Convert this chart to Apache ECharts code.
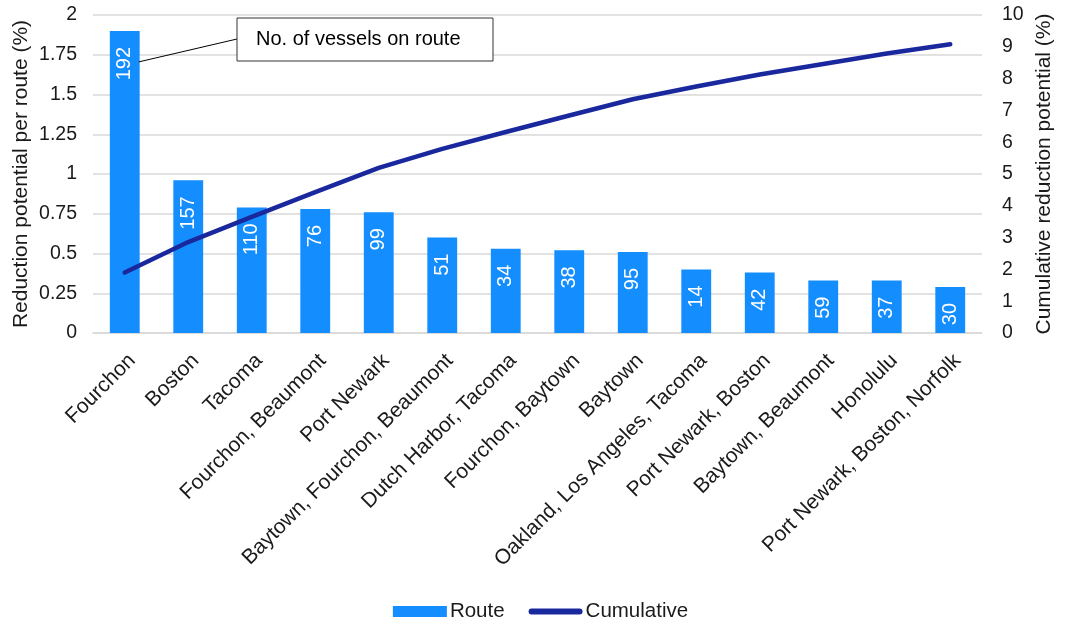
<!DOCTYPE html>
<html>
<head>
<meta charset="utf-8">
<script src="https://cdn.jsdelivr.net/npm/echarts@6/dist/echarts.min.js"></script>
<style>html,body{margin:0;padding:0;background:#fff;}#c{width:1081px;height:625px;}</style>
</head>
<body>
<div id="c"></div>
<script>
const categories = ["Fourchon","Boston","Tacoma","Fourchon, Beaumont","Port Newark","Baytown, Fourchon, Beaumont","Dutch Harbor, Tacoma","Fourchon, Baytown","Baytown","Oakland, Los Angeles, Tacoma","Port Newark, Boston","Baytown, Beaumont","Honolulu","Port Newark, Boston, Norfolk"];
const routeValues = [1.90, 0.96, 0.79, 0.78, 0.76, 0.60, 0.53, 0.52, 0.51, 0.40, 0.38, 0.33, 0.33, 0.29];
const vesselCounts = [192, 157, 110, 76, 99, 51, 34, 38, 95, 14, 42, 59, 37, 30];
const cumulativeValues = [1.90, 2.86, 3.65, 4.43, 5.19, 5.79, 6.32, 6.84, 7.35, 7.75, 8.13, 8.46, 8.79, 9.08];

const FONT = '"Liberation Sans", Arial, sans-serif';
const TXT = '#1a1a1a';
const chart = echarts.init(document.getElementById('c'), null, {renderer: 'canvas'});
const option = {
  animation: false,
  textStyle: {fontFamily: FONT},
  grid: {left: 93, right: 99, top: 15, bottom: 292, containLabel: false},
  legend: {
    top: 596, left: 'center',
    itemGap: 24, itemWidth: 54, itemHeight: 11,
    textStyle: {fontFamily: FONT, fontSize: 20.5, color: TXT, padding: [0, 0, 0, -2]},
    data: [
      {name: 'Route', icon: 'rect'},
      {name: 'Cumulative', icon: 'path://M3,0 L53,0 A3,3 0 0 1 53,6 L3,6 A3,3 0 0 1 3,0 Z'}
    ]
  },
  xAxis: {
    type: 'category', data: categories,
    axisLine: {lineStyle: {color: '#d9d9d9', width: 1.5}},
    axisTick: {show: false},
    axisLabel: {rotate: 45, interval: 0, fontFamily: FONT, fontSize: 21, color: TXT, margin: 17, verticalAlign: 'top'}
  },
  yAxis: [{
    type: 'value', min: 0, max: 2, interval: 0.25,
    name: 'Reduction potential per route (%)', nameLocation: 'middle', nameRotate: 90, nameGap: 61,
    nameMoveOverlap: false,
    nameTextStyle: {fontFamily: FONT, fontSize: 21, color: TXT},
    axisLine: {show: false}, axisTick: {show: false},
    axisLabel: {fontFamily: FONT, fontSize: 19.5, color: TXT, margin: 16},
    splitLine: {lineStyle: {color: '#d9d9d9', width: 1.5}}
  }, {
    type: 'value', min: 0, max: 10, interval: 1,
    name: 'Cumulative reduction potential (%)', nameLocation: 'middle', nameRotate: 90, nameGap: 52,
    nameMoveOverlap: false,
    nameTextStyle: {fontFamily: FONT, fontSize: 21, color: TXT},
    axisLine: {show: false}, axisTick: {show: false},
    axisLabel: {fontFamily: FONT, fontSize: 19.5, color: TXT, margin: 20},
    splitLine: {show: false}
  }],
  series: [{
    name: 'Route', type: 'bar', yAxisIndex: 0, barWidth: '47%',
    itemStyle: {color: '#148dff'},
    data: routeValues,
    label: {
      show: true, position: 'insideTop', rotate: 90, align: 'right', verticalAlign: 'middle',
      distance: 16, color: '#fff', fontFamily: FONT, fontSize: 20,
      formatter: p => String(vesselCounts[p.dataIndex])
    }
  }, {
    name: 'Cumulative', type: 'line', yAxisIndex: 1, data: cumulativeValues,
    symbol: 'none', lineStyle: {color: '#1a289e', width: 4.5, cap: 'round'},
    itemStyle: {color: '#1a289e'}
  }]
};
chart.setOption(option);

// annotation box with leader line pointing to first bar's label
const p0 = chart.convertToPixel({xAxisIndex: 0, yAxisIndex: 0}, [0, routeValues[0]]);
const boxX = 237, boxY = 18, boxW = 256, boxH = 43;
chart.setOption({
  graphic: [
    {type: 'line', shape: {x1: boxX, y1: boxY + 21, x2: p0[0] + 14, y2: p0[1] + 31}, style: {stroke: '#000', lineWidth: 1}, z: 100},
    {type: 'rect', shape: {x: boxX, y: boxY, width: boxW, height: boxH}, style: {fill: '#fff', stroke: '#333', lineWidth: 1}, z: 100},
    {type: 'text', x: boxX + 19, y: boxY + boxH / 2, style: {text: 'No. of vessels on route', font: '20px ' + FONT, fill: '#000', textVerticalAlign: 'middle', verticalAlign: 'middle'}, z: 101}
  ]
});
</script>
</body>
</html>
